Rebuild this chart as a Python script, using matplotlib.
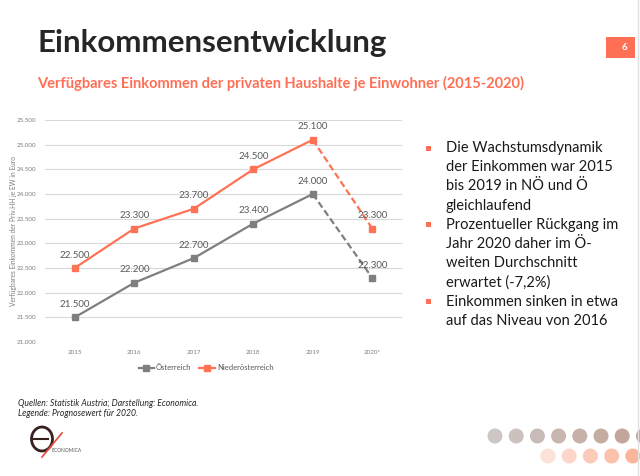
import matplotlib
matplotlib.use("Agg")
import matplotlib.pyplot as plt
from matplotlib.patches import Rectangle, Ellipse
from matplotlib.lines import Line2D
from matplotlib.ticker import FuncFormatter

plt.rcParams['font.family'] = ['Lato', 'DejaVu Sans']

# data
years = ['2015', '2016', '2017', '2018', '2019', '2020*']
oesterreich = [21500, 22200, 22700, 23400, 24000, 22300]
niederoesterreich = [22500, 23300, 23700, 24500, 25100, 23300]
series_names = ['Österreich', 'Niederösterreich']

title = 'Einkommensentwicklung'
subtitle = 'Verfügbares Einkommen der privaten Haushalte je Einwohner (2015-2020)'
ylabel = 'Verfügbares Einkommen der Priv.HH je EW in Euro'
bullets = [
    ['Die Wachstumsdynamik', 'der Einkommen war 2015', 'bis 2019 in NÖ und Ö', 'gleichlaufend'],
    ['Prozentueller Rückgang im', 'Jahr 2020 daher im Ö-', 'weiten Durchschnitt', 'erwartet (-7,2%)'],
    ['Einkommen sinken in etwa', 'auf das Niveau von 2016'],
]
footer = ['Quellen: Statistik Austria; Darstellung: Economica.', 'Legende: Prognosewert für 2020.']
page_no = '6'

GREY = '#7f7f7f'
ORANGE = '#ff7255'
ACCENT = '#ff6f55'

W, H = 640, 476


def fx(x):
    return x / W


def fy(y):
    return 1 - y / H


def dot(x, y, d, color):
    # round dot given in pixels
    fig.add_artist(Ellipse((fx(x), fy(y)), d / W, d / H, transform=fig.transFigure,
                           facecolor=color, edgecolor='none'))


fig = plt.figure(figsize=(6.4, 4.76), dpi=100)

# header
fig.text(fx(37), fy(52), title, fontsize=22.5, fontweight='bold', color='#262626', va='baseline')
fig.text(fx(37), fy(88), subtitle, fontsize=10.5, fontweight='bold', color=ACCENT, va='baseline')
fig.patches.append(Rectangle((fx(606), fy(58)), fx(29), 21 / H, transform=fig.transFigure,
                             facecolor=ACCENT, edgecolor='none'))
fig.text(fx(624), fy(47.5), page_no, fontsize=7, fontweight='bold', color='white', ha='center', va='center')
fig.add_artist(Line2D([fx(637.5), fx(637.5)], [0, 1], transform=fig.transFigure, color='#e0e0e0', lw=1))

# chart
ax = fig.add_axes([fx(45), fy(342), fx(402) - fx(45), (342 - 120) / H])
x = list(range(len(years)))
ax.plot(x[:-1], oesterreich[:-1], color=GREY, lw=1.6, marker='s', ms=4.5, label=series_names[0])
ax.plot(x[-2:], oesterreich[-2:], color=GREY, lw=1.6, ls=(0, (3, 1.5)), marker='s', ms=4.5, markevery=[1])
ax.plot(x[:-1], niederoesterreich[:-1], color=ORANGE, lw=1.6, marker='s', ms=4.5, label=series_names[1])
ax.plot(x[-2:], niederoesterreich[-2:], color=ORANGE, lw=1.6, ls=(0, (3, 1.5)), marker='s', ms=4.5, markevery=[1])

for xi, v in zip(x, oesterreich):
    ax.annotate(f'{v:,}'.replace(',', '.'), (xi, v), xytext=(0, 6), textcoords='offset points',
                ha='center', va='bottom', fontsize=7, color='#595959')
for xi, v in zip(x, niederoesterreich):
    ax.annotate(f'{v:,}'.replace(',', '.'), (xi, v), xytext=(0, 6), textcoords='offset points',
                ha='center', va='bottom', fontsize=7, color='#595959')

ax.set_xlim(-0.5, len(years) - 0.5)
ax.set_ylim(21000, 25500)
ax.set_yticks(range(21000, 25501, 500))
ax.yaxis.set_major_formatter(FuncFormatter(lambda v, p: f'{int(v):,}'.replace(',', '.')))
ax.set_xticks(x)
ax.set_xticklabels(years)
ax.tick_params(length=0, labelsize=4.5, labelcolor='#7f7f7f', pad=6)
ax.grid(axis='y', color='#d9d9d9', lw=0.8)
ax.set_axisbelow(True)
for s in ax.spines.values():
    s.set_visible(False)
ax.set_ylabel(ylabel, fontsize=4.8, color='#7f7f7f')
ax.yaxis.set_label_coords(-0.078, 0.5)

fig.legend(loc='center', bbox_to_anchor=(fx(206), fy(368)), ncol=2, frameon=False,
           fontsize=5.5, labelcolor='#595959', handlelength=2, columnspacing=1, handletextpad=0.3)

# bullets
y = 148
for block in bullets:
    fig.patches.append(Rectangle((fx(426), fy(y + 2.5)), 5 / W, 5 / H, transform=fig.transFigure,
                                 facecolor=ACCENT, edgecolor='none'))
    for line in block:
        fig.text(fx(446), fy(y), line, fontsize=10.5, color='#1a1a1a', va='center')
        y += 19.2

# footer
fig.text(fx(18), fy(403), footer[0], fontsize=6.2, style='italic', color='#262626', va='center')
fig.text(fx(18), fy(414), footer[1], fontsize=6.2, style='italic', color='#262626', va='center')

# logo
fig.add_artist(Ellipse((fx(42), fy(439)), 21 / W, 24 / H, transform=fig.transFigure,
                       fill=False, edgecolor='#3a1f1f', lw=2))
fig.add_artist(Line2D([fx(33), fx(48)], [fy(439), fy(439)], transform=fig.transFigure, color='#3a1f1f', lw=1.5))
fig.add_artist(Line2D([fx(42), fx(62)], [fy(457), fy(433)], transform=fig.transFigure, color='#e84a3a', lw=1.2))
fig.text(fx(52), fy(450), 'ECONOMICA', fontsize=3.5, color='#555555', va='center')

# decorative dots
top_cols = ['#cdc6c5', '#cbc2c0', '#c9bcb8', '#c8b6b0', '#c6b1a9', '#c5aca3', '#c3a69c', '#c2a398']
for i, c in enumerate(top_cols):
    dot(495 + 21.2 * i, 436, 15, c)
bot_cols = ['#fde2d7', '#fcd6c8', '#fbcbb9', '#fac1ab', '#f9b69c']
for i, c in enumerate(bot_cols):
    dot(548 + 21.2 * i, 456, 15, c)

fig.savefig('out.png', dpi=100)
